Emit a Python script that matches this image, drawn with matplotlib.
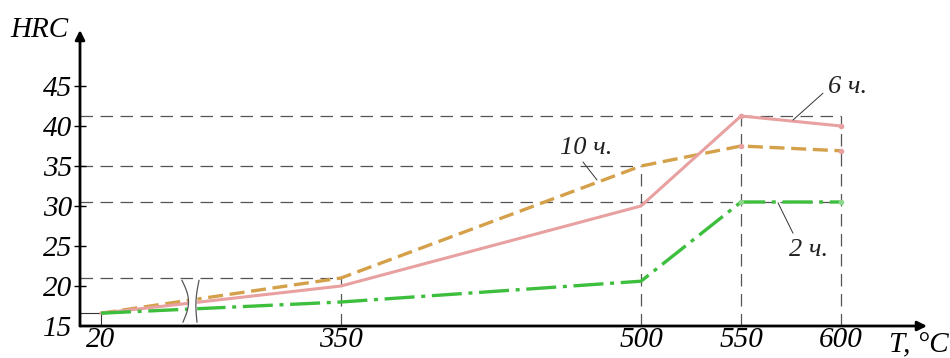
import numpy as np
import matplotlib
matplotlib.use("Agg")
from matplotlib import pyplot as plt

# Данные: твердость HRC в зависимости от температуры отпуска
temps = [20, 350, 500, 550, 600]
hrc_2h = [16.6, 18.0, 20.6, 30.5, 30.5]
hrc_6h = [16.6, 20.0, 30.0, 41.25, 40.0]
hrc_10h = [16.6, 21.0, 35.0, 37.5, 36.9]
y_ticks = [15, 20, 25, 30, 35, 40, 45]

# разрыв оси между 20 и 350
BREAK_SHIFT = 210


def xpos(t):
    t = np.asarray(t, dtype=float)
    return np.where(t < 350, t + BREAK_SHIFT, t)


plt.rcParams['font.family'] = ['Liberation Serif', 'DejaVu Serif']
plt.rcParams['font.style'] = 'italic'

fig = plt.figure(figsize=(9.5, 3.58), dpi=100)
W, H = 950, 358
ax = fig.add_axes([80 / W, (H - 326) / H, (927 - 80) / W, (326 - 30) / H])
ax.set_xlim(219.5, 643)
ax.set_ylim(15, 52)
for s in ax.spines.values():
    s.set_visible(False)

x = xpos(temps)
x0 = ax.get_xlim()[0]
grid = dict(color='#555555', lw=0.9, ls=(0, (10, 6)), zorder=1)

# вспомогательные штриховые линии
ax.hlines(hrc_6h[3], x0, x[4], **grid)
ax.hlines(hrc_10h[2], x0, x[2], **grid)
ax.hlines(hrc_2h[3], x0, x[4], **grid)
ax.hlines(hrc_10h[1], x0, x[1], **grid)
ax.vlines(x[1], 15, hrc_10h[1], **grid)
ax.vlines(x[2], 15, hrc_10h[2], **grid)
ax.vlines(x[3], 15, hrc_6h[3], **grid)
ax.vlines(x[4], 15, hrc_6h[3], **grid)
ax.plot([x0, x[0], x[0]], [hrc_6h[0], hrc_6h[0], 15], color='#333333', lw=0.8, zorder=1)

ax.plot(x, hrc_10h, color='#D4A04A', lw=2.4, ls=(0, (4.5, 2)), zorder=3)
ax.plot(x, hrc_6h, color='#E8A0A0', lw=2.2, zorder=3)
ax.plot(x, hrc_2h, color='#3DBE3D', lw=2.4, ls=(0, (9, 2, 1.2, 2)), zorder=3)
for ys, c in [(hrc_6h, '#E8A0A0'), (hrc_10h, '#E8A0A0'), (hrc_2h, '#8ED88E')]:
    ax.plot(x[3:], ys[3:], 'o', ms=3, color=c, zorder=4)

# символ разрыва
t = np.linspace(0, 1, 50)
yy = 15.5 + t * 5.2
x1 = 271 + 3.0 * np.sin(np.pi * t) - 0.5 * t
x2 = 278 - 1.0 * np.sin(np.pi * t) + 1.0 * t
ax.fill_betweenx(yy, x1, x2, color='white', zorder=5)
ax.plot(x1, yy, color='#555555', lw=0.9, zorder=6)
ax.plot(x2, yy, color='#555555', lw=0.9, zorder=6)

# оси со стрелками
ax.annotate('', xy=(1.0, 0), xytext=(0, 0), xycoords='axes fraction',
            arrowprops=dict(arrowstyle='-|>', color='black', lw=2, mutation_scale=14,
                            shrinkA=0, shrinkB=0), zorder=7)
ax.annotate('', xy=(0, 1.0), xytext=(0, 0), xycoords='axes fraction',
            arrowprops=dict(arrowstyle='-|>', color='black', lw=2, mutation_scale=14,
                            shrinkA=0, shrinkB=0), zorder=7)

ax.set_yticks(y_ticks)
ax.set_yticklabels([str(v) for v in y_ticks], fontsize=21)
ax.tick_params(axis='y', direction='inout', length=9, width=1, pad=1)
ax.set_xticks(x)
ax.set_xticklabels([str(v) for v in temps], fontsize=21)
ax.tick_params(axis='x', length=0, pad=1)
ax.yaxis.get_major_ticks()[0].tick1line.set_visible(False)

fig.text(68 / W, 1 - 30 / H, 'HRC', fontsize=21, ha='right', va='center')
fig.text(949 / W, 1 - 345 / H, 'T, °C', fontsize=21, ha='right', va='center')

# подписи кривых
lbl = dict(fontsize=19, color='#222222')
ax.text(603.5, 44.9, '6 ч.', **lbl, ha='center', va='center')
ax.annotate('', xy=(576, 40.75), xytext=(591, 44.1),
            arrowprops=dict(arrowstyle='-', color='#333333', lw=0.7, shrinkA=0, shrinkB=0))
ax.text(472.5, 37.25, '10 ч.', **lbl, ha='center', va='center')
ax.annotate('', xy=(478, 33.25), xytext=(471, 35.5),
            arrowprops=dict(arrowstyle='-', color='#333333', lw=0.7, shrinkA=0, shrinkB=0))
ax.text(584, 24.5, '2 ч.', **lbl, ha='center', va='center')
ax.annotate('', xy=(568.5, 30.4), xytext=(576, 26.6),
            arrowprops=dict(arrowstyle='-', color='#333333', lw=0.7, shrinkA=0, shrinkB=0))

fig.savefig('out.png', dpi=100)
